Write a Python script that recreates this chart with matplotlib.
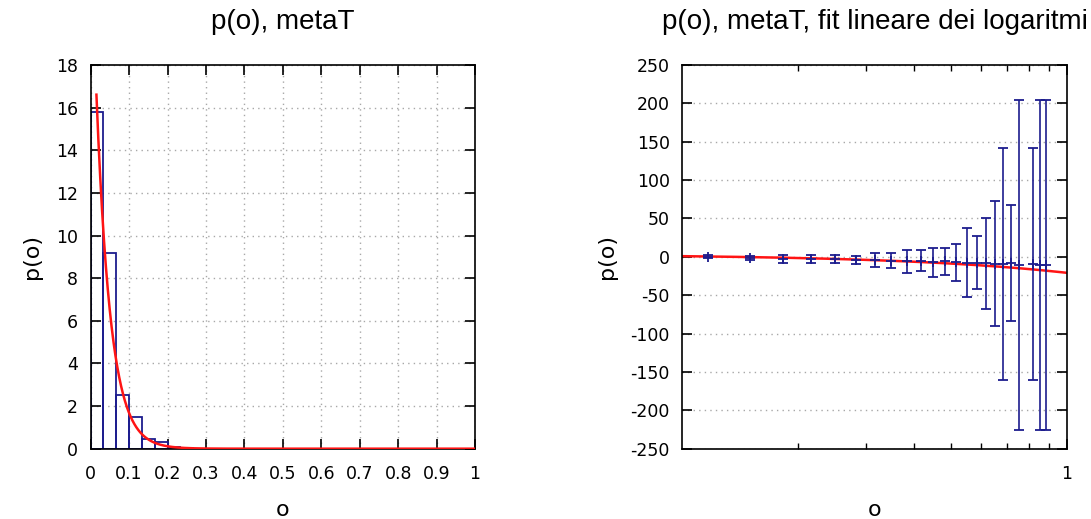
import matplotlib
matplotlib.use('Agg')
import matplotlib.pyplot as plt
import numpy as np
from matplotlib.ticker import FixedLocator, NullFormatter

plt.rcParams['axes.unicode_minus'] = False

# left panel: normalised histogram of o (bin width 1/30) and exponential fit
bin_width = 1.0 / 30
bin_edges = [0.0, 0.0333, 0.0667, 0.1, 0.1333, 0.1667, 0.2, 0.2333]
bin_heights = [15.78, 9.16, 2.54, 1.50, 0.44, 0.33, 0.10, 0.04]
fit_amp = 24.9      # p(o) = fit_amp * exp(-fit_rate * o)
fit_rate = 27.0
fit_start = 0.015

# right panel: log p(o) per bin with error bars, and linear fit
log_o = [0.1167, 0.15, 0.1833, 0.2167, 0.25, 0.2833, 0.3167, 0.35, 0.3833,
         0.4167, 0.45, 0.4833, 0.5167, 0.55, 0.5833, 0.6167, 0.65, 0.6833,
         0.7167, 0.75, 0.8167, 0.85, 0.8833]
log_p = [0.0, -1.6, -2.4, -2.4, -2.6, -4.3, -4.1, -5.0, -6.0,
         -4.8, -7.0, -5.9, -7.0, -7.6, -7.8, -8.5, -8.7, -9.3,
         -8.2, -10.9, -9.3, -10.9, -10.9]
log_err = [2.0, 3.0, 5.4, 5.0, 5.2, 5.2, 9.3, 10.2, 14.7,
           13.5, 19.0, 18.0, 24.3, 45.4, 34.7, 59.2, 81.6, 151.2,
           75.5, 214.8, 151.2, 214.8, 214.8]
line_a = 3.28       # log p = line_a + line_b * o
line_b = -24.1

blue = '#1c1c8e'
red = '#ff1414'
grid_kw = dict(color='#a8a8a8', linestyle=(0, (1, 3)), linewidth=1.0)

fig = plt.figure(figsize=(10.91, 5.19), dpi=100)
ax1 = fig.add_axes([0.0831, 0.1355, 0.3523, 0.7393])
ax2 = fig.add_axes([0.6254, 0.1355, 0.3523, 0.7393])

# ---- left
ax1.bar(bin_edges, bin_heights, width=bin_width, align='edge', fill=False,
        edgecolor=blue, linewidth=1.3, zorder=2)
oo = np.linspace(fit_start, 1.0, 400)
ax1.plot(oo, fit_amp * np.exp(-fit_rate * oo), color=red, lw=1.8, zorder=3)
ax1.set_xlim(0, 1)
ax1.set_ylim(0, 18)
ax1.set_xticks(np.arange(0, 1.01, 0.1))
ax1.set_xticklabels(['0', '0.1', '0.2', '0.3', '0.4', '0.5', '0.6', '0.7', '0.8', '0.9', '1'])
ax1.set_yticks(range(0, 19, 2))
ax1.grid(True, **grid_kw)
ax1.set_axisbelow(True)
ax1.set_title('p(o), metaT', family='Liberation Sans', fontsize=20, pad=26)

# ---- right
ax2.set_xscale('log')
oo2 = np.linspace(0.1, 1.0, 300)
ax2.plot(oo2, line_a + line_b * oo2, color=red, lw=1.8, zorder=2)
ax2.errorbar(log_o, log_p, yerr=log_err, fmt='+', color=blue, ms=7, mew=1.3,
             elinewidth=1.2, capsize=3.4, capthick=1.2, zorder=3)
ax2.set_xlim(0.1, 1.0)
ax2.set_ylim(-250, 250)
ax2.set_yticks(range(-250, 251, 50))
ax2.xaxis.set_major_locator(FixedLocator([1.0]))
ax2.xaxis.set_minor_locator(FixedLocator([0.2, 0.3, 0.4, 0.5, 0.6, 0.7, 0.8, 0.9]))
ax2.xaxis.set_minor_formatter(NullFormatter())
ax2.set_xticklabels(['1'])
ax2.yaxis.grid(True, **grid_kw)
ax2.set_axisbelow(True)
ax2.set_title('p(o), metaT, fit lineare dei logaritmi', family='Liberation Sans',
              fontsize=20, pad=26)

for ax in (ax1, ax2):
    ax.tick_params(which='major', direction='in', length=7, width=1.2,
                   top=True, right=True, labelsize=12.5, pad=9)
    ax.tick_params(axis='x', which='major', pad=12)
    ax.tick_params(which='minor', direction='in', length=4, width=1.0,
                   top=True, right=True)
    for s in ax.spines.values():
        s.set_linewidth(1.2)
    ax.set_xlabel('o', fontsize=16, labelpad=12)
    ax.set_ylabel('p(o)', fontsize=16, labelpad=10)

fig.savefig('out.png', dpi=100)
